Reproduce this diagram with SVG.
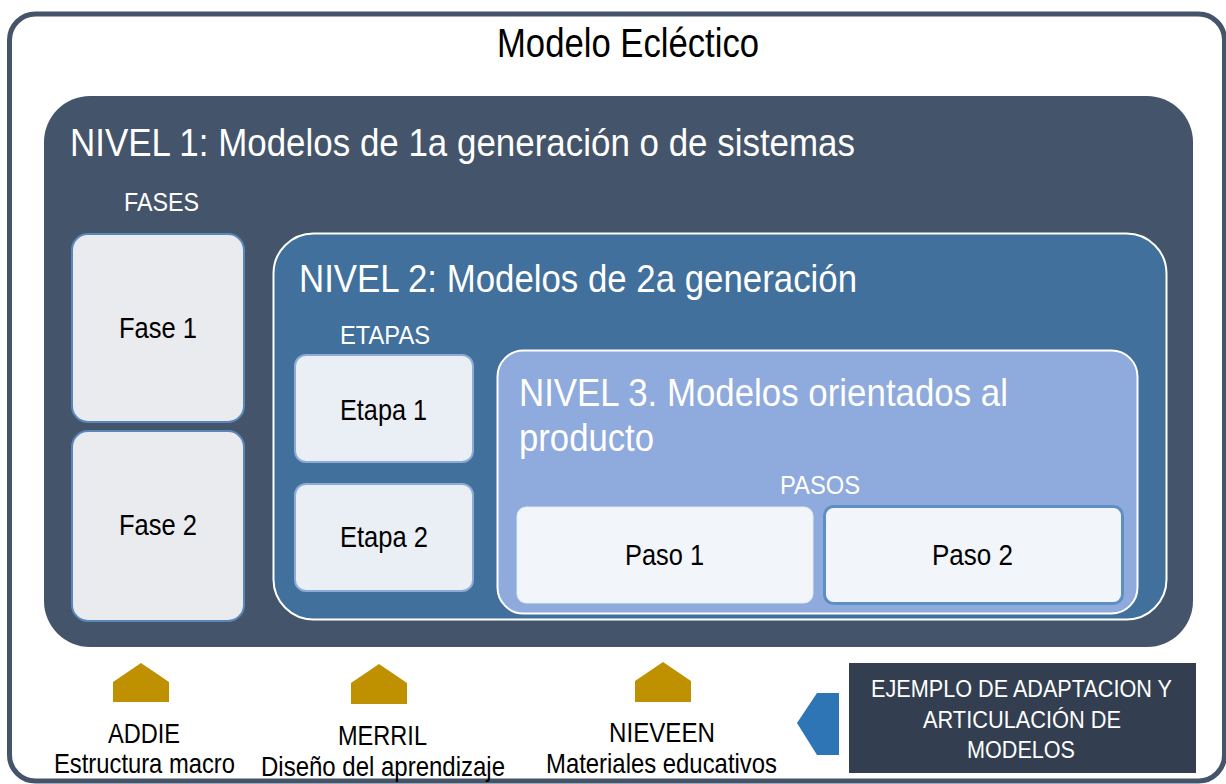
<svg xmlns="http://www.w3.org/2000/svg" width="1226" height="784" viewBox="0 0 1226 784">
<style>
text{font-family:"Liberation Sans",Arial,sans-serif}
.w{fill:#FFFFFF}
.k{fill:#000000}
.title{font-size:39px}
.sub{font-size:26px}
.box{font-size:29px}
.lbl{font-size:28px}
.ej{font-size:24px}
.gold{fill:#BF9000}
</style>
<rect x="0" y="0" width="1226" height="784" fill="#FFFFFF"/>
<g id="frame">
<rect x="9.5" y="14" width="1215" height="767" rx="26" fill="#FFFFFF" stroke="#44546A" stroke-width="5"/>
<text x="497" y="57" class="k" font-size="41" textLength="262" lengthAdjust="spacingAndGlyphs">Modelo Ecléctico</text>
</g>
<g id="nivel1">
<rect x="44" y="96" width="1149" height="551" rx="46" fill="#44546A"/>
<text x="70" y="156" class="w title" textLength="785" lengthAdjust="spacingAndGlyphs">NIVEL 1: Modelos de 1a generación o de sistemas</text>
<text x="124" y="211" class="w sub" textLength="75" lengthAdjust="spacingAndGlyphs">FASES</text>
</g>
<g id="fase1">
<rect x="72" y="234" width="172" height="188" rx="16" fill="#E9EBEE" stroke="#5A87BA" stroke-width="2"/>
<text x="119" y="338" class="k box" textLength="78" lengthAdjust="spacingAndGlyphs">Fase 1</text>
</g>
<g id="fase2">
<rect x="72" y="431" width="172" height="190" rx="16" fill="#E9EBEE" stroke="#5A87BA" stroke-width="2"/>
<text x="119" y="535" class="k box" textLength="78" lengthAdjust="spacingAndGlyphs">Fase 2</text>
</g>
<g id="nivel2">
<rect x="273.5" y="233.5" width="893" height="386" rx="40" fill="#41709C" stroke="#FFFFFF" stroke-width="2"/>
<text x="299" y="292" class="w title" textLength="558" lengthAdjust="spacingAndGlyphs">NIVEL 2: Modelos de 2a generación</text>
<text x="340" y="344" class="w sub" textLength="90" lengthAdjust="spacingAndGlyphs">ETAPAS</text>
</g>
<g id="etapa1">
<rect x="295" y="355" width="178" height="107" rx="11" fill="#EAEFF5" stroke="#8EAAD6" stroke-width="2"/>
<text x="340" y="420" class="k box" textLength="87" lengthAdjust="spacingAndGlyphs">Etapa 1</text>
</g>
<g id="etapa2">
<rect x="295" y="484" width="178" height="107" rx="11" fill="#EAEFF5" stroke="#8EAAD6" stroke-width="2"/>
<text x="340" y="547" class="k box" textLength="88" lengthAdjust="spacingAndGlyphs">Etapa 2</text>
</g>
<g id="nivel3">
<rect x="497.5" y="350.5" width="640" height="263" rx="26" fill="#8FAADC" stroke="#FFFFFF" stroke-width="2"/>
<text x="519" y="406" class="w title" textLength="489" lengthAdjust="spacingAndGlyphs">NIVEL 3. Modelos orientados al</text>
<text x="519" y="451" class="w title" textLength="135" lengthAdjust="spacingAndGlyphs">producto</text>
<text x="780" y="494" class="w sub" textLength="80" lengthAdjust="spacingAndGlyphs">PASOS</text>
</g>
<g id="paso1">
<rect x="517" y="507" width="296" height="96" rx="9" fill="#F2F5FA" stroke="#E3EAF5" stroke-width="1"/>
<text x="625" y="565" class="k box" textLength="79" lengthAdjust="spacingAndGlyphs">Paso 1</text>
</g>
<g id="paso2">
<rect x="824.5" y="506.5" width="298" height="97" rx="9" fill="#F2F5FA" stroke="#5D8FC4" stroke-width="3"/>
<text x="932" y="565" class="k box" textLength="81" lengthAdjust="spacingAndGlyphs">Paso 2</text>
</g>
<g id="arrows">
<polygon class="gold" points="113,682 141,663 169,682 169,702 113,702"/>
<polygon class="gold" points="351,683 379,664 407,683 407,704 351,704"/>
<polygon class="gold" points="635,681 663,662 691,681 691,702 635,702"/>
<polygon fill="#2E75B6" points="839,693 817,693 797,723 817,755 839,755"/>
</g>
<g id="addie">
<text x="108" y="743" class="k lbl" textLength="72" lengthAdjust="spacingAndGlyphs">ADDIE</text>
<text x="54" y="773" class="k lbl" textLength="181" lengthAdjust="spacingAndGlyphs">Estructura macro</text>
</g>
<g id="merril">
<text x="338" y="745" class="k lbl" textLength="89" lengthAdjust="spacingAndGlyphs">MERRIL</text>
<text x="261" y="776" class="k lbl" textLength="244" lengthAdjust="spacingAndGlyphs">Diseño del aprendizaje</text>
</g>
<g id="nieveen">
<text x="609" y="742" class="k lbl" textLength="106" lengthAdjust="spacingAndGlyphs">NIEVEEN</text>
<text x="546" y="773" class="k lbl" textLength="231" lengthAdjust="spacingAndGlyphs">Materiales educativos</text>
</g>
<g id="ejemplo">
<rect x="849" y="663" width="347" height="110" fill="#333F50"/>
<text x="871" y="697" class="w ej" textLength="301" lengthAdjust="spacingAndGlyphs">EJEMPLO DE ADAPTACION Y</text>
<text x="923" y="728" class="w ej" textLength="198" lengthAdjust="spacingAndGlyphs">ARTICULACIÓN DE</text>
<text x="967" y="758" class="w ej" textLength="108" lengthAdjust="spacingAndGlyphs">MODELOS</text>
</g>
</svg>
